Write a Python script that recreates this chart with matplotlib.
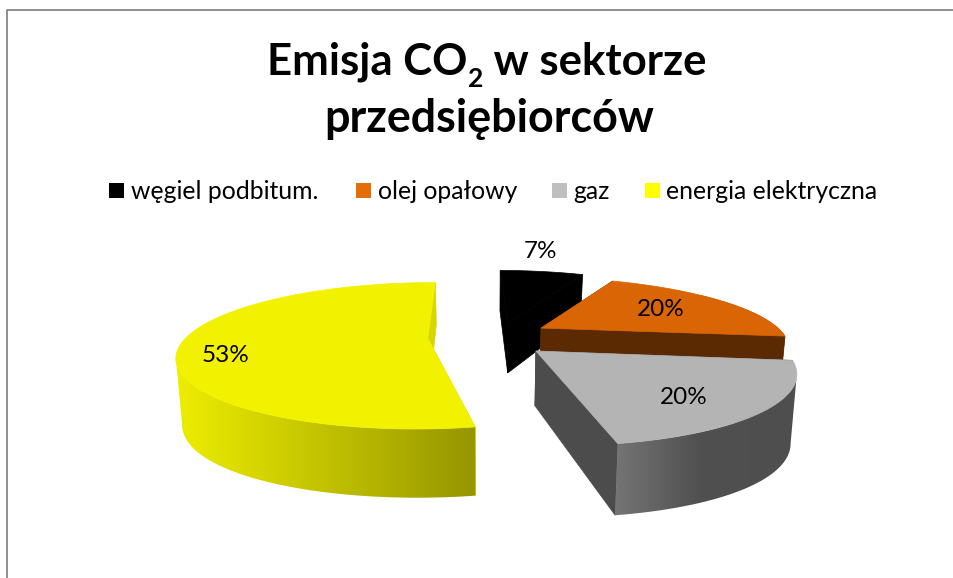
import numpy as np
import matplotlib
matplotlib.use('Agg')
import matplotlib.pyplot as plt
from matplotlib.patches import Polygon, Rectangle

plt.rcParams['font.family'] = ['Lato', 'DejaVu Sans']

# dane
categories = ['węgiel podbitum.', 'olej opałowy', 'gaz', 'energia elektryczna']
shares = [7, 20, 20, 53]
labels = ['7%', '20%', '20%', '53%']

# kolory
top_colors = ['#000000', '#D96505', '#B4B4B4', '#F2F200']
legend_colors = ['#000000', '#E46C0A', '#BFBFBF', '#FFFF00']
radial_colors = ['#000000', '#5B2A02', '#4C4C4C', '#D6D600']

# rzut perspektywiczny kola na ekran (piksele)
X0, Y0 = 488, 336
A, B, C, K = 236.6, 5, 68, 0.235
DEPTH, DEPTH_SIDE, BOTTOM_X = 52, 11, 0.98
# przesuniecie i promien kazdego wycinka
offset_x = [0.093, 0.233, 0.188, -0.253]
offset_y = [-0.196, -0.12, 0.21, 0.035]
radius_x = [1.03, 1.03, 1.0, 1.016]
radius_y = [1.05, 0.97, 0.96, 1.0]


def project(x, y, bottom=False, extra=0.0):
    w = 1 - K * y
    sx = (A * x + B * y) / w
    sy = Y0 + C * y / w
    if bottom:
        sx = sx * BOTTOM_X
        sy = sy + DEPTH / w + extra
    return X0 + sx, sy


def arc(theta, i, bottom=False):
    x = offset_x[i] + radius_x[i] * np.sin(theta)
    y = offset_y[i] - radius_y[i] * np.cos(theta)
    return project(x, y, bottom, DEPTH_SIDE * np.sin(theta) ** 2)


fig = plt.figure(figsize=(9.54, 5.78), dpi=100)
ax = fig.add_axes([0, 0, 1, 1])

# ramka wykresu
ax.plot([7.5, 7.5, 954], [578, 9.5, 9.5], color='#868686', lw=1.3)

edges = np.cumsum([0] + shares) / sum(shares) * 2 * np.pi
wall_x = [([0, 954], ['#000000', '#000000']),
          ([0, 954], ['#5B2A02', '#5B2A02']),
          ([610, 700, 800], ['#777777', '#505050', '#4E4E4E']),
          ([175, 473], ['#EEEE00', '#969600'])]

for i in range(len(shares)):
    z = 1 + i
    t0, t1 = edges[i], edges[i + 1]
    thetas = np.linspace(t0, t1, 200)
    cx, cy = project(offset_x[i], offset_y[i])
    bx, by = project(offset_x[i], offset_y[i], True)
    # sciany promieniowe
    for t in (t0, t1):
        p = arc(t, i)
        q = arc(t, i, True)
        ax.add_patch(Polygon([(cx, cy), p, q, (bx, by)], closed=True,
                             fc=radial_colors[i], ec=radial_colors[i], lw=0.5, zorder=z))
    # sciana zewnetrzna z gradientem: tylko od skraju do skraju wycinka
    top_x, top_y = arc(thetas, i)
    lo, hi = sorted([np.argmin(top_x), np.argmax(top_x)])
    front = thetas[lo:hi + 1]
    front = front[np.cos(front) < 0.6]
    if len(front) > 1:
        ux, uy = arc(front, i)
        lx, ly = arc(front[::-1], i, True)
        wall = Polygon(np.column_stack([np.r_[ux, lx], np.r_[uy, ly]]), closed=True,
                       fc='none', ec='none')
        ax.add_patch(wall)
        xs, stops = wall_x[i]
        rgb = np.array([matplotlib.colors.to_rgb(c) for c in stops])
        grid = np.linspace(0, 954, 955)
        grad = np.stack([np.interp(grid, xs, rgb[:, k]) for k in range(3)], axis=-1)[None, :, :]
        im = ax.imshow(grad, extent=(0, 954, 578, 0), aspect='auto', zorder=z + 0.1)
        im.set_clip_path(wall)
    # wierzch
    pts = [(cx, cy)] + list(zip(top_x, top_y))
    ax.add_patch(Polygon(pts, closed=True, fc=top_colors[i], ec=top_colors[i], lw=0.5,
                         zorder=z + 0.2))

ax.set_xlim(0, 954)
ax.set_ylim(578, 0)
ax.axis('off')

# etykiety
label_pos = [(541, 251), (661, 310), (684, 397), (226, 356)]
for lab, (lx, ly) in zip(labels, label_pos):
    ax.text(lx, ly, lab, fontsize=17.5, color='black', ha='center', va='center', zorder=9)

# tytul
TITLE_SIZE = 32.3
fig.canvas.draw()
rend = fig.canvas.get_renderer()
parts = [('Emisja CO', 31.5, 0), ('2', 19, 12), (' w sektorze', 31.5, 0)]
texts = [ax.text(0, 75, p[0].replace(' ', '\u00a0'), fontsize=p[1], fontweight='bold', ha='left',
                 va='baseline', zorder=9) for p in parts]
widths = [t.get_window_extent(rend).width for t in texts]
px = 487 - sum(widths) / 2
for t, w, p in zip(texts, widths, parts):
    t.set_position((px, 75 + p[2]))
    px += w
ax.text(489, 132, 'przedsiębiorców', fontsize=TITLE_SIZE, fontweight='bold', ha='center',
        va='baseline', zorder=9)

# legenda
square_x = [109, 356, 552, 645]
text_x = [131, 378, 573, 666]
for name, col, sx, tx in zip(categories, legend_colors, square_x, text_x):
    ax.add_patch(Rectangle((sx, 183), 15, 15, fc=col, ec='none', zorder=9))
    ax.text(tx, 199, name, fontsize=17.8, color='black', ha='left', va='baseline', zorder=9)

fig.savefig('out.png', dpi=100)
